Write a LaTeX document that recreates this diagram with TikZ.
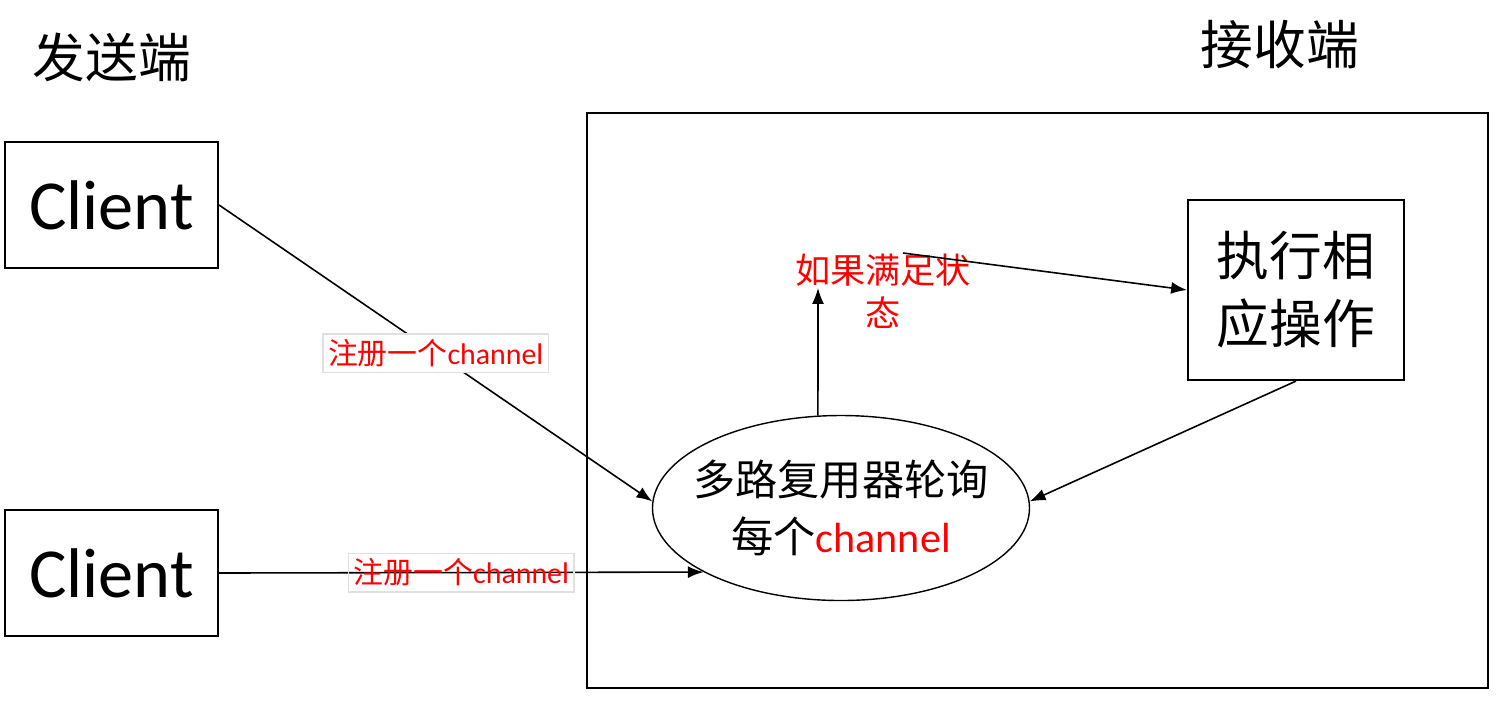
\documentclass[tikz,border=0pt]{standalone}
\usepackage{fontspec}
\setmainfont{Carlito}
\newfontfamily\cjk{Noto Sans CJK SC}
\usetikzlibrary{arrows,arrows.meta,shapes,positioning}
\newcommand{\zh}[1]{{\cjk #1}}

\begin{document}
\begin{tikzpicture}
    \tikzstyle{every node}+=[inner sep=0pt]
    \tikzstyle{client}=[draw, semithick, minimum width=2.13cm, minimum height=1.26cm, font=\fontsize{20}{24}\selectfont]
    \tikzstyle{title}=[font=\fontsize{15}{18}\selectfont]
    \tikzstyle{tag}=[fill=white, draw=black!12, inner sep=1.5pt, text=red, font=\fontsize{8.5}{10}\selectfont]
    \tikzstyle{link}=[-{Latex[length=4.5pt,width=3.4pt]}, line width=0.45pt]
    \useasboundingbox (0,0) rectangle (15,-7);
    % titles
    \node[title] (send) at (1.12,-0.57) {\zh{发送端}};
    \node[title] (recv) at (12.80,-0.45) {\zh{接收端}};
    % sender side
    \node[client] (c1) at (1.115,-2.05) {Client};
    \node[client] (c2) at (1.115,-5.73) {Client};
    % receiver side
    \node[draw, semithick, minimum width=9.01cm, minimum height=5.75cm] (frame) at (10.375,-4.005) {};
    \node[ellipse, draw, thin, minimum width=3.77cm, minimum height=1.85cm,
          label={[align=center, font=\fontsize{12}{16}\selectfont]center:{\zh{多路复用器轮询}\\\zh{每个}\textcolor{red}{channel}}}] (mux) at (8.41,-5.08) {};
    \node[draw, semithick, minimum width=2.16cm, minimum height=1.80cm, align=center, font=\fontsize{15}{19.4}\selectfont] (act) at (12.96,-2.90) {\zh{执行相}\\\zh{应操作}};
    \node[align=center, text=red, font=\fontsize{10}{12.2}\selectfont] (cond) at (8.83,-2.91) {\zh{如果满足状}\\\zh{态}};
    \coordinate (up) at (8.18,-2.88);
    \coordinate (from) at (9.03,-2.53);
    % connectors
    \draw[link] (c1.east) -- node[tag] {\zh{注册一个}channel} (mux.178);
    \draw[link] (c2.east) -- node[tag, fill=none] {\zh{注册一个}channel} (mux.205);
    \draw[link] (mux.104) -- (up);
    \draw[link] (from) -- (act.west);
    \draw[link] (act.south) -- (mux.2);
\end{tikzpicture}
\end{document}
